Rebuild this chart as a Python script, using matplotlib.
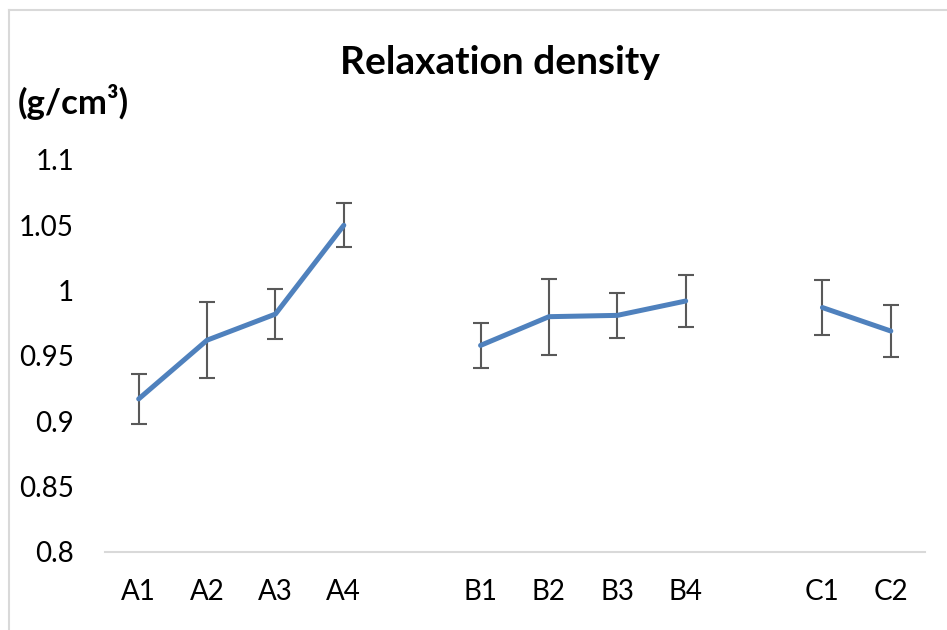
import numpy as np
import matplotlib.pyplot as plt
from matplotlib.lines import Line2D

# 数据
groups = [
    ["A1", "A2", "A3", "A4"],
    ["B1", "B2", "B3", "B4"],
    ["C1", "C2"],
]
density_a = [0.917, 0.962, 0.982, 1.050]
density_b = [0.958, 0.980, 0.981, 0.992]
density_c = [0.987, 0.969]
err_a = [0.019, 0.029, 0.019, 0.017]
err_b = [0.017, 0.029, 0.017, 0.020]
err_c = [0.021, 0.020]
y_ticks = [0.8, 0.85, 0.9, 0.95, 1.0, 1.05, 1.1]
y_tick_labels = ["0.8", "0.85", "0.9", "0.95", "1", "1.05", "1.1"]

plt.rcParams['font.family'] = ['Lato', 'DejaVu Sans']

fig = plt.figure(figsize=(9.47, 6.3), dpi=100)
ax = fig.add_axes([104.5 / 947, 1 - 551.7 / 630, 820.5 / 947, 391.7 / 630])

# 每组之间空一个类别
labels = []
pos = 0
positions = []
for g in groups:
    idx = list(range(pos, pos + len(g)))
    positions.append(idx)
    labels.extend(g)
    pos += len(g) + 1
all_pos = [p for idx in positions for p in idx]

blue = '#4F81BD'
for idx, vals, errs in zip(positions, [density_a, density_b, density_c],
                           [err_a, err_b, err_c]):
    ax.errorbar(idx, vals, yerr=errs, color=blue, lw=3.6,
                ecolor='#595959', elinewidth=1.5, capsize=5.5, capthick=1.5,
                solid_capstyle='round', zorder=3)

ax.set_xlim(-0.5, pos - 1.5)
ax.set_ylim(0.8, 1.1)
ax.set_xticks(all_pos)
ax.set_xticklabels(labels, fontsize=20)
ax.set_yticks(y_ticks)
ax.set_yticklabels(y_tick_labels, fontsize=20)
ax.tick_params(axis='both', length=0)
ax.tick_params(axis='y', pad=22)
ax.tick_params(axis='x', pad=20)

for s in ['left', 'right', 'top']:
    ax.spines[s].set_visible(False)
ax.spines['bottom'].set_color('#D9D9D9')
ax.spines['bottom'].set_linewidth(1.5)

fig.text(500 / 947, 1 - 62 / 630, "Relaxation density", fontsize=28,
         fontweight='bold', ha='center', va='center')
fig.text(18 / 947, 1 - 102 / 630, "(g/cm³)", fontsize=25,
         fontweight='bold', ha='left', va='center')

# 图表外框（仅左、上可见）
fig.add_artist(Line2D([9 / 947, 9 / 947], [0, 1 - 10 / 630],
                      transform=fig.transFigure, color='#D9D9D9', lw=1.5))
fig.add_artist(Line2D([9 / 947, 1], [1 - 10 / 630, 1 - 10 / 630],
                      transform=fig.transFigure, color='#D9D9D9', lw=1.5))

fig.savefig("out.png", dpi=100)
